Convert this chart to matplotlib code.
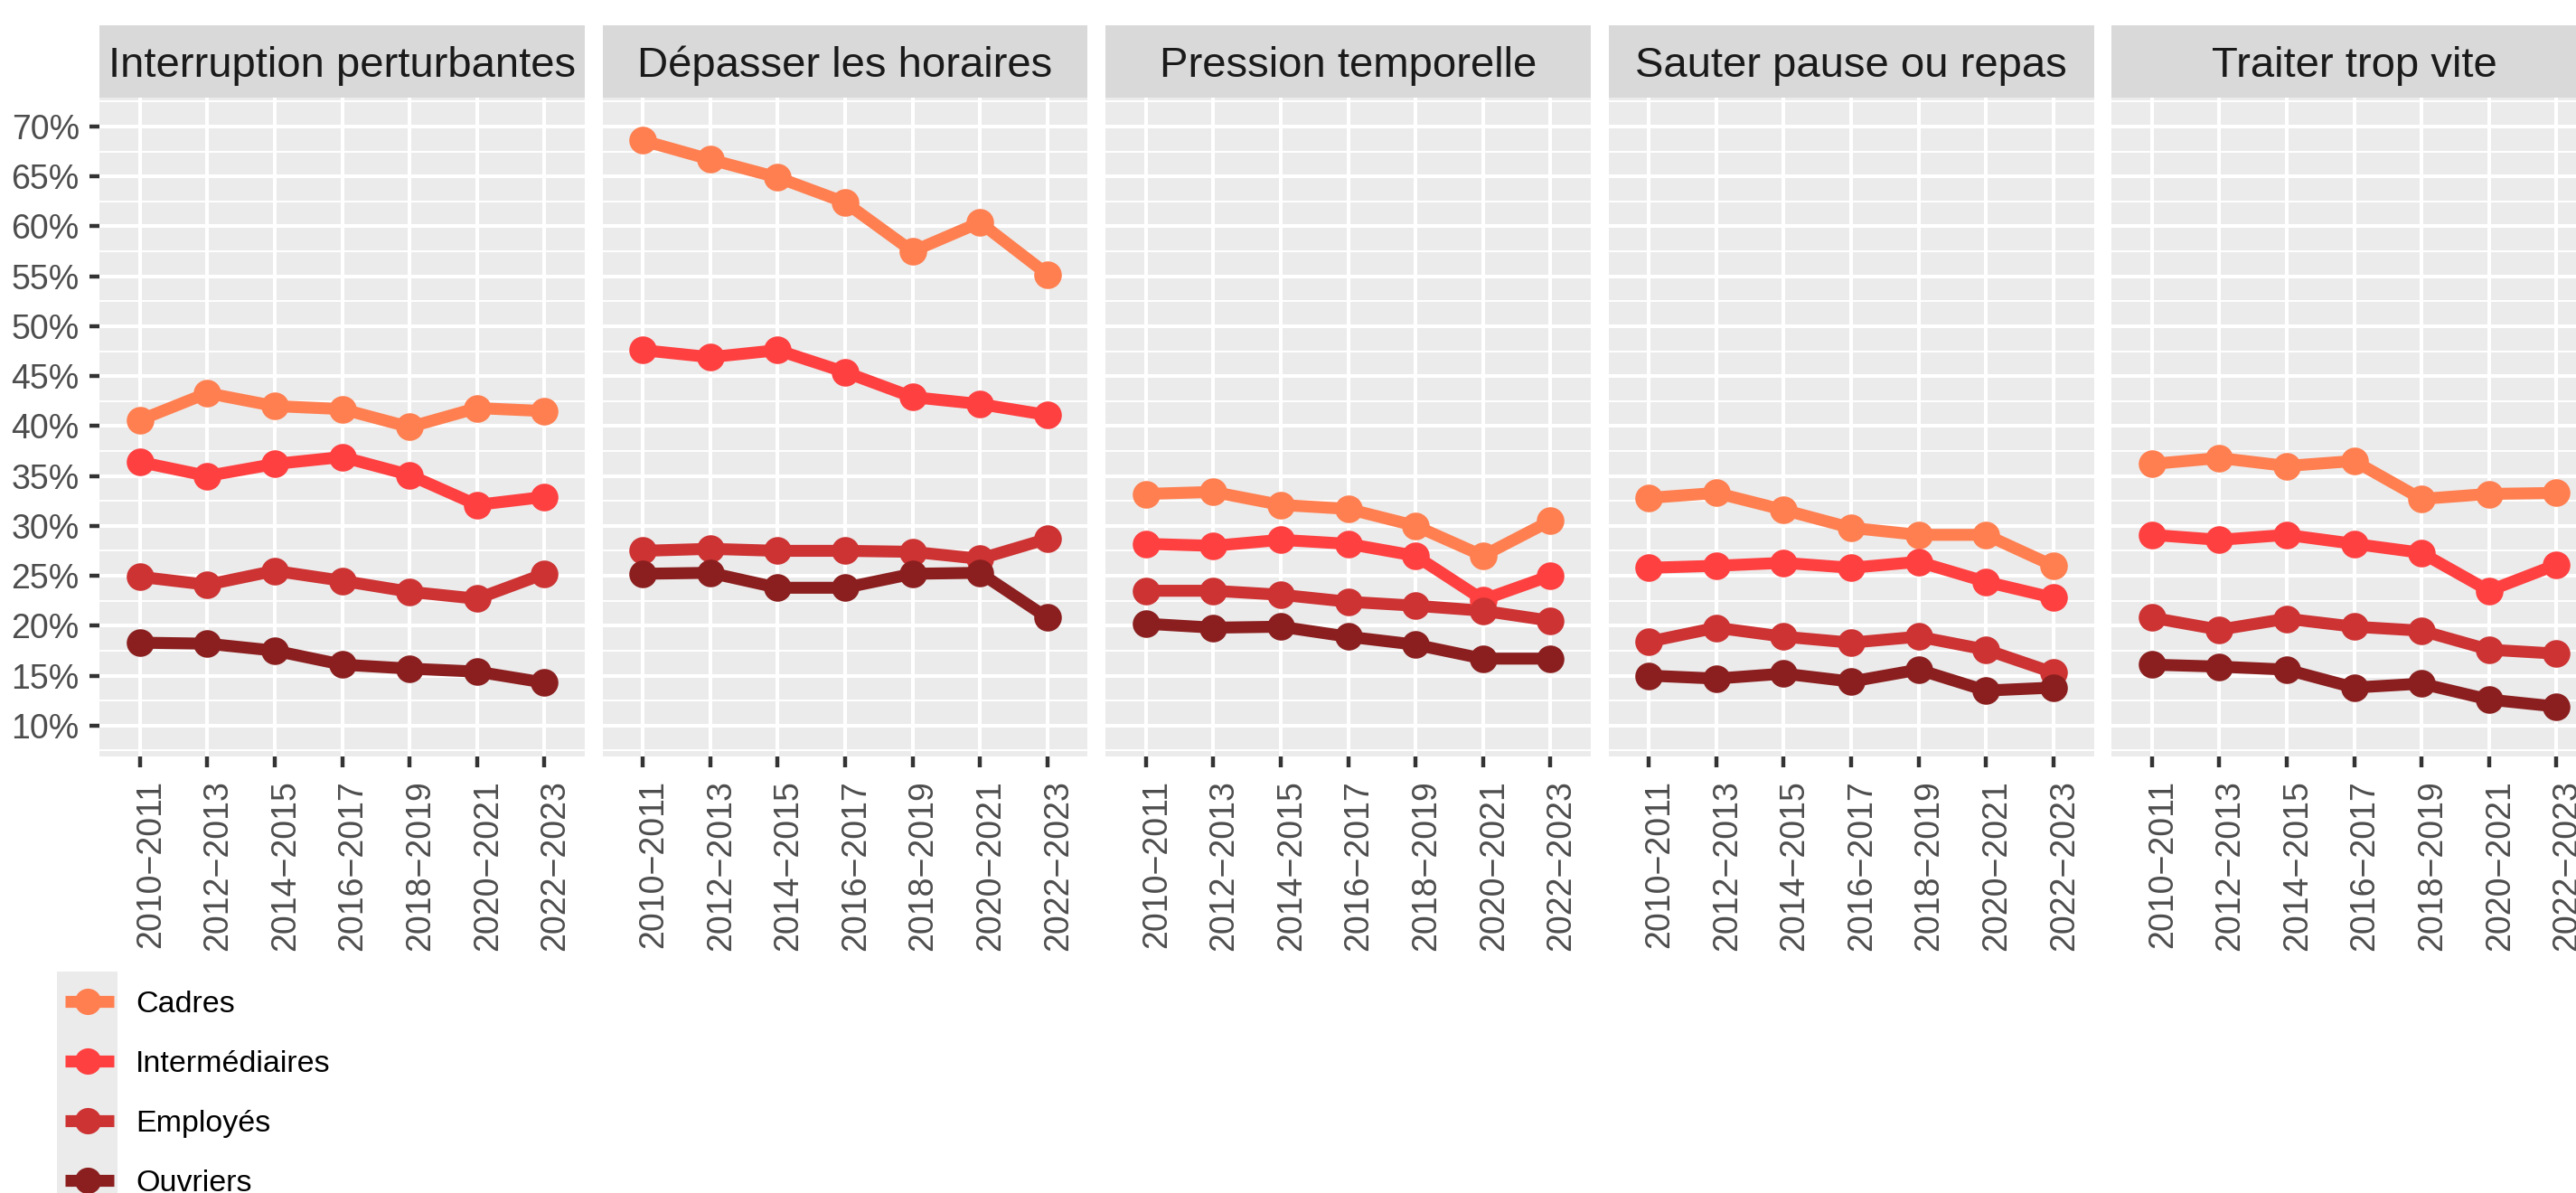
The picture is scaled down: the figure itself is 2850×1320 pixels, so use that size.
import matplotlib.pyplot as plt
import matplotlib.transforms as mtransforms

plt.rcParams['font.family'] = ['Liberation Sans', 'DejaVu Sans']

# data (percent)
periods = ['2010\u22122011', '2012\u22122013', '2014\u22122015', '2016\u22122017',
           '2018\u22122019', '2020\u22122021', '2022\u22122023']
facets = ['Interruption perturbantes', 'Dépasser les horaires', 'Pression temporelle',
          'Sauter pause ou repas', 'Traiter trop vite']
groups = ['Cadres', 'Intermédiaires', 'Employés', 'Ouvriers']

cadres = [
    [40.6, 43.3, 42.0, 41.7, 39.9, 41.8, 41.5],
    [68.6, 66.7, 64.9, 62.4, 57.5, 60.4, 55.2],
    [33.2, 33.4, 32.1, 31.7, 30.0, 27.0, 30.5],
    [32.8, 33.3, 31.6, 29.8, 29.1, 29.1, 26.0],
    [36.2, 36.8, 36.0, 36.5, 32.7, 33.2, 33.3],
]
intermediaires = [
    [36.4, 35.0, 36.2, 36.9, 35.1, 32.1, 32.9],
    [47.6, 46.9, 47.6, 45.4, 42.9, 42.2, 41.1],
    [28.2, 28.0, 28.6, 28.2, 27.0, 22.6, 25.0],
    [25.8, 26.0, 26.3, 25.8, 26.4, 24.4, 22.8],
    [29.1, 28.6, 29.1, 28.2, 27.3, 23.5, 26.1],
]
employes = [
    [24.9, 24.1, 25.5, 24.5, 23.4, 22.7, 25.2],
    [27.5, 27.7, 27.5, 27.5, 27.4, 26.7, 28.7],
    [23.5, 23.5, 23.1, 22.4, 22.0, 21.5, 20.5],
    [18.4, 19.8, 18.9, 18.3, 18.9, 17.6, 15.3],
    [20.8, 19.6, 20.7, 19.9, 19.5, 17.6, 17.2],
]
ouvriers = [
    [18.3, 18.2, 17.5, 16.1, 15.7, 15.4, 14.3],
    [25.2, 25.3, 23.8, 23.8, 25.2, 25.3, 20.8],
    [20.2, 19.8, 19.9, 18.9, 18.1, 16.7, 16.7],
    [15.0, 14.7, 15.2, 14.4, 15.6, 13.5, 13.8],
    [16.1, 15.9, 15.6, 13.8, 14.2, 12.6, 11.9],
]
series = [cadres, intermediaires, employes, ouvriers]
colors = ['#FF7F50', '#FF4040', '#CD3333', '#8B1F1F']

yticks = list(range(10, 75, 5))
yminor = [7.5 + 5 * k for k in range(14)]

W, H = 2850, 1320
fig = plt.figure(figsize=(W / 100, H / 100), dpi=100)

panel_left = [110, 666.5, 1223, 1779.5, 2336]
pw = 537
top, bottom, strip_top = 108, 837, 28
x = list(range(len(periods)))

for i, name in enumerate(facets):
    ax = fig.add_axes([panel_left[i] / W, 1 - bottom / H, pw / W, (bottom - top) / H])
    ax.set_facecolor('#EBEBEB')
    for s in ax.spines.values():
        s.set_visible(False)
    ax.set_xlim(-0.6, 6.6)
    ax.set_ylim(6.9, 72.9)
    ax.set_yticks(yticks)
    ax.set_yticks(yminor, minor=True)
    ax.grid(which='major', color='white', lw=2.9)
    ax.grid(which='minor', axis='y', color='white', lw=1.4)
    ax.set_axisbelow(True)
    ax.tick_params(which='minor', length=0)
    ax.tick_params(axis='x', length=8.6, width=3.2, color='#333333', pad=10,
                   labelsize=27, labelcolor='#4D4D4D')
    ax.set_xticks(x)
    ax.set_xticklabels(periods, rotation=90, ha='left')
    off = mtransforms.ScaledTranslation(-6 / 100, 0, fig.dpi_scale_trans)
    for lab in ax.get_xticklabels():
        lab.set_transform(lab.get_transform() + off)
    if i == 0:
        ax.tick_params(axis='y', length=8, width=3.2, color='#333333', pad=8,
                       labelsize=27, labelcolor='#4D4D4D')
        ax.set_yticklabels([f'{v}%' for v in yticks])
    else:
        ax.tick_params(axis='y', length=0, labelleft=False)

    for g, vals in enumerate(series):
        ax.plot(x, vals[i], color=colors[g], lw=9.5, solid_capstyle='butt', zorder=2)
    for g, vals in enumerate(series):
        ax.plot(x, vals[i], 'o', color=colors[g], ms=22, mew=0, zorder=3)

    sax = fig.add_axes([panel_left[i] / W, 1 - top / H, pw / W, (top - strip_top) / H])
    sax.set_facecolor('#D9D9D9')
    sax.set_xticks([]); sax.set_yticks([])
    for s in sax.spines.values():
        s.set_visible(False)
    sax.text(0.5, 0.29, name, ha='center', va='baseline', fontsize=34,
             color='#1A1A1A', transform=sax.transAxes)

# legend (no title), bottom-left, ggplot style keys
lax = fig.add_axes([0, 0, 1, 1], zorder=-1)
lax.set_xlim(0, W); lax.set_ylim(H, 0)
lax.axis('off')
key_y = [1108, 1174, 1240, 1306]
lax.add_patch(plt.Rectangle((63, 1075), 67, 260, color='#EBEBEB', lw=0))
for g, name in enumerate(groups):
    lax.plot([72, 126], [key_y[g]] * 2, color=colors[g], lw=9.5, solid_capstyle='butt')
    lax.plot([97], [key_y[g]], 'o', color=colors[g], ms=21, mew=0)
    lax.text(150, key_y[g], name, fontsize=24.5, color='black', va='center_baseline')

fig.savefig('out.png', dpi=100)
